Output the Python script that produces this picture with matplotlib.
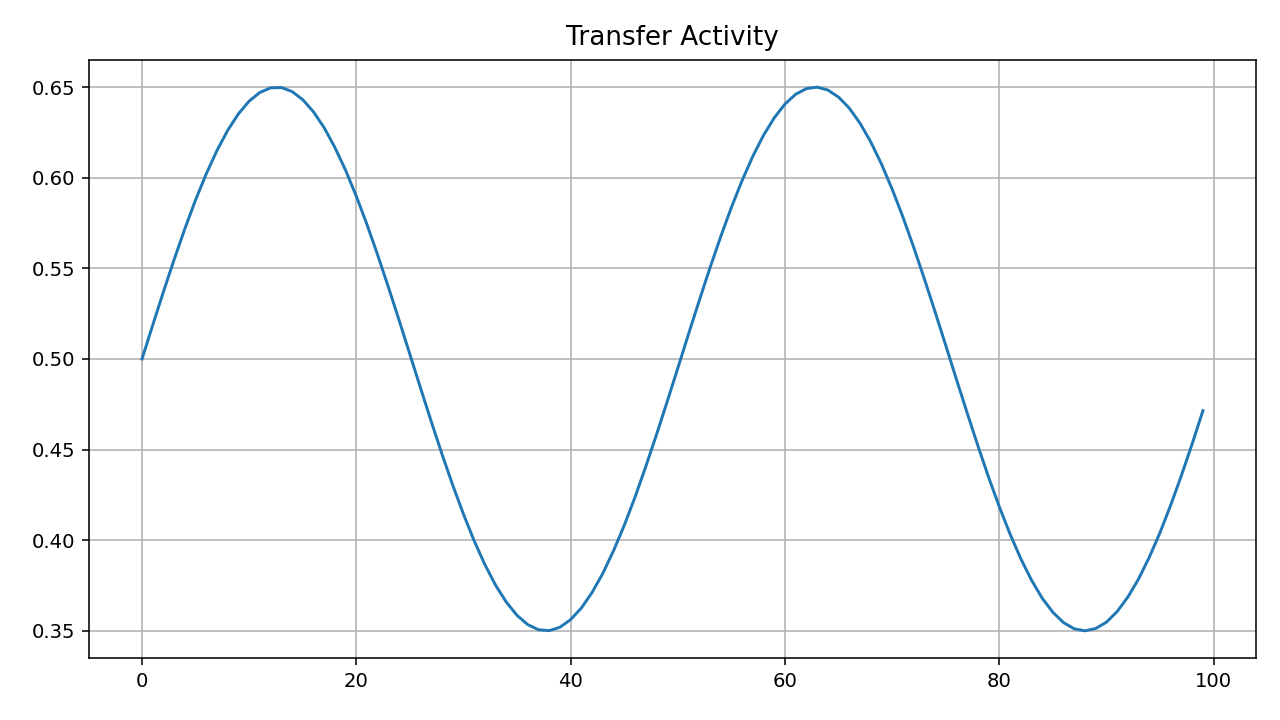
import matplotlib
matplotlib.use("Agg")
import matplotlib.pyplot as plt

steps = list(range(100))
activity = [
    0.5000, 0.5187, 0.5371, 0.5549, 0.5719, 0.5878, 0.6022, 0.6151, 0.6262, 0.6353,
    0.6423, 0.6471, 0.6496, 0.6498, 0.6476, 0.6431, 0.6364, 0.6276, 0.6167, 0.6041,
    0.5898, 0.5741, 0.5572, 0.5395, 0.5212, 0.5025, 0.4838, 0.4653, 0.4474, 0.4303,
    0.4143, 0.3996, 0.3865, 0.3751, 0.3658, 0.3585, 0.3534, 0.3506, 0.3501, 0.3520,
    0.3562, 0.3626, 0.3712, 0.3817, 0.3942, 0.4082, 0.4237, 0.4405, 0.4581, 0.4764,
    0.4950, 0.5138, 0.5323, 0.5503, 0.5675, 0.5837, 0.5985, 0.6119, 0.6235, 0.6331,
    0.6407, 0.6461, 0.6492, 0.6500, 0.6484, 0.6445, 0.6384, 0.6301, 0.6198, 0.6076,
    0.5937, 0.5784, 0.5618, 0.5443, 0.5261, 0.5075, 0.4887, 0.4702, 0.4521, 0.4347,
    0.4184, 0.4034, 0.3898, 0.3780, 0.3680, 0.3602, 0.3545, 0.3511, 0.3500, 0.3513,
    0.3548, 0.3607, 0.3687, 0.3787, 0.3907, 0.4043, 0.4195, 0.4359, 0.4533, 0.4715,
]

s = 1.41  # scale factor relative to default sizes
plt.rcParams.update({
    "font.size": 10 * s,
    "axes.linewidth": 0.8 * s,
    "grid.linewidth": 0.8 * s,
    "xtick.major.size": 3.5 * s,
    "ytick.major.size": 3.5 * s,
    "xtick.major.width": 0.8 * s,
    "ytick.major.width": 0.8 * s,
    "xtick.major.pad": 3.5 * s,
    "ytick.major.pad": 3.5 * s,
})

fig = plt.figure(figsize=(12.8, 7.2), dpi=100)
ax = fig.add_axes([0.0695, 0.0861, 0.98125 - 0.0695, 0.9167 - 0.0861])
ax.plot(steps, activity, color="#1f77b4", linewidth=1.5 * s)
ax.set_title("Transfer Activity", fontsize=13.4 * s, pad=10.5)
ax.grid(True)
fig.savefig("out.png", dpi=100)
